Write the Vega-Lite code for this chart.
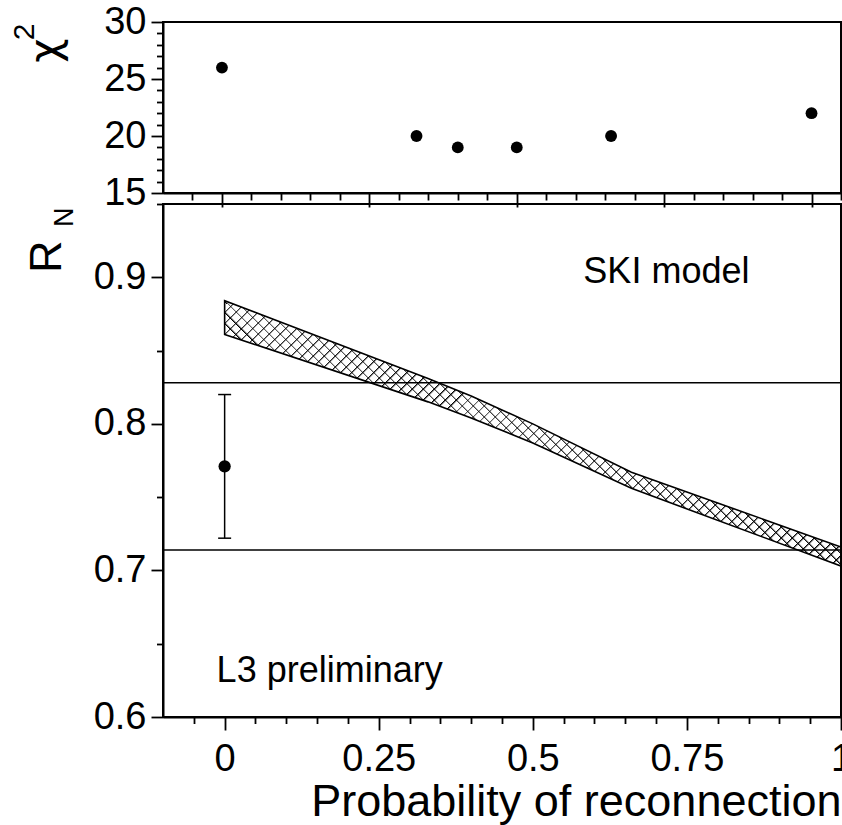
{
  "$schema": "https://vega.github.io/schema/vega-lite/v6.json",
  "autosize": {"type": "none"},
  "padding": {"left": 163, "top": 22, "right": 1, "bottom": 108},
  "params": [{"name": "width", "value": 678}, {"name": "height", "value": 695}],
  "background": "white",
  "spacing": 11,
  "bounds": "flush",
  "config": {
    "font": "Liberation Sans",
    "view": {"stroke": "black", "strokeWidth": 2},
    "axis": {"grid": false, "domainColor": "black", "domainWidth": 2, "tickColor": "black", "tickWidth": 1.8, "labelColor": "black", "titleColor": "black", "labelFont": "Liberation Sans", "titleFont": "Liberation Sans", "titleFontWeight": "normal", "labelOverlap": false, "labelSeparation": -1000, "labelBound": false, "labelFlush": false}
  },
  "datasets": {
    "chi": [
      {"p": 0, "chi2": 26},
      {"p": 0.33, "chi2": 20},
      {"p": 0.4, "chi2": 19},
      {"p": 0.5, "chi2": 19},
      {"p": 0.66, "chi2": 20},
      {"p": 1, "chi2": 22}
    ],
    "band": [
      {"p": 0, "lo": 0.861, "hi": 0.884},
      {"p": 0.33, "lo": 0.815, "hi": 0.831},
      {"p": 0.4, "lo": 0.804, "hi": 0.819},
      {"p": 0.5, "lo": 0.787, "hi": 0.8},
      {"p": 0.66, "lo": 0.756, "hi": 0.767},
      {"p": 1, "lo": 0.703, "hi": 0.716}
    ],
    "lines": [{"lo": 0.828}, {"lo": 0.714}],
    "meas": [{"p": 0, "lo": 0.771, "elo": 0.722, "ehi": 0.82}],
    "caps": [{"p": 0, "lo": 0.722}, {"p": 0, "lo": 0.82}],
    "notes": [
      {"p": 0.582, "lo": 0.896, "txt": "SKI model"},
      {"p": -0.013, "lo": 0.624, "txt": "L3 preliminary"}
    ]
  },
  "vconcat": [
    {
      "width": 678,
      "height": 171,
      "layer": [
        {
          "data": {"name": "chi"},
          "mark": {"type": "circle", "size": 140, "color": "black", "opacity": 1},
          "encoding": {
            "x": {"field": "p", "type": "quantitative",
              "scale": {"domain": [-0.1, 1.05], "nice": false, "zero": false},
              "axis": {"title": null, "labels": false,
                "values": [-0.05, 0, 0.05, 0.1, 0.15, 0.2, 0.25, 0.3, 0.35, 0.4, 0.45, 0.5, 0.55, 0.6, 0.65, 0.7, 0.75, 0.8, 0.85, 0.9, 0.95, 1, 1.05],
                "tickSize": {"condition": {"test": "abs(datum.value*4 - round(datum.value*4)) < 0.001", "value": 14}, "value": 7}}},
            "y": {"field": "chi2", "type": "quantitative",
              "scale": {"domain": [15, 30], "nice": false, "zero": false},
              "axis": {"values": [15, 16, 17, 18, 19, 20, 21, 22, 23, 24, 25, 26, 27, 28, 29, 30],
                "tickSize": {"condition": {"test": "datum.value % 5 == 0", "value": 12}, "value": 6.5},
                "labelExpr": "datum.value % 5 == 0 ? format(datum.value, 'd') : ''",
                "labelOverlap": false, "labelSeparation": -1000,
                "labelFontSize": 38, "labelPadding": 5,
                "title": "χ", "titleFont": "DejaVu Sans", "titleFontSize": 42, "titleAngle": 270, "titleAlign": "right", "titleBaseline": "alphabetic", "titleX": -105, "titleY": 16}}
          }
        },
        {
          "data": {"name": "chi"},
          "mark": {"type": "point", "opacity": 0},
          "encoding": {
            "y": {"field": "chi2", "type": "quantitative",
              "axis": {"orient": "right", "labels": false, "ticks": false, "domain": false,
                "title": "2", "titleFontSize": 30, "titleAngle": 270, "titleAlign": "right", "titleBaseline": "alphabetic", "titleX": -808, "titleY": 1}}
          }
        }
      ],
      "resolve": {"axis": {"y": "independent"}}
    },
    {
      "width": 678,
      "height": 513,
      "layer": [
        {
          "layer": [
            {
              "data": {"name": "band"},
              "mark": {"type": "area", "fillOpacity": 1, "strokeWidth": 0,
                "fill": {"gradient": "linear", "x1": 0, "y1": 1, "x2": 1.2068, "y2": 0.4803, "stops": [
        {"offset":0,"color":"#000"},{"offset":0.0028,"color":"transparent"},{"offset":0.0125,"color":"transparent"},
        {"offset":0.0125,"color":"#000"},{"offset":0.0153,"color":"transparent"},{"offset":0.025,"color":"transparent"},
        {"offset":0.025,"color":"#000"},{"offset":0.0278,"color":"transparent"},{"offset":0.0375,"color":"transparent"},
        {"offset":0.0375,"color":"#000"},{"offset":0.0403,"color":"transparent"},{"offset":0.05,"color":"transparent"},
        {"offset":0.05,"color":"#000"},{"offset":0.0528,"color":"transparent"},{"offset":0.0625,"color":"transparent"},
        {"offset":0.0625,"color":"#000"},{"offset":0.0653,"color":"transparent"},{"offset":0.075,"color":"transparent"},
        {"offset":0.075,"color":"#000"},{"offset":0.0778,"color":"transparent"},{"offset":0.0875,"color":"transparent"},
        {"offset":0.0875,"color":"#000"},{"offset":0.0903,"color":"transparent"},{"offset":0.1,"color":"transparent"},
        {"offset":0.1,"color":"#000"},{"offset":0.1028,"color":"transparent"},{"offset":0.1125,"color":"transparent"},
        {"offset":0.1125,"color":"#000"},{"offset":0.1153,"color":"transparent"},{"offset":0.125,"color":"transparent"},
        {"offset":0.125,"color":"#000"},{"offset":0.1278,"color":"transparent"},{"offset":0.1375,"color":"transparent"},
        {"offset":0.1375,"color":"#000"},{"offset":0.1403,"color":"transparent"},{"offset":0.15,"color":"transparent"},
        {"offset":0.15,"color":"#000"},{"offset":0.1528,"color":"transparent"},{"offset":0.1625,"color":"transparent"},
        {"offset":0.1625,"color":"#000"},{"offset":0.1653,"color":"transparent"},{"offset":0.175,"color":"transparent"},
        {"offset":0.175,"color":"#000"},{"offset":0.1778,"color":"transparent"},{"offset":0.1875,"color":"transparent"},
        {"offset":0.1875,"color":"#000"},{"offset":0.1903,"color":"transparent"},{"offset":0.2,"color":"transparent"},
        {"offset":0.2,"color":"#000"},{"offset":0.2028,"color":"transparent"},{"offset":0.2125,"color":"transparent"},
        {"offset":0.2125,"color":"#000"},{"offset":0.2153,"color":"transparent"},{"offset":0.225,"color":"transparent"},
        {"offset":0.225,"color":"#000"},{"offset":0.2278,"color":"transparent"},{"offset":0.2375,"color":"transparent"},
        {"offset":0.2375,"color":"#000"},{"offset":0.2403,"color":"transparent"},{"offset":0.25,"color":"transparent"},
        {"offset":0.25,"color":"#000"},{"offset":0.2528,"color":"transparent"},{"offset":0.2625,"color":"transparent"},
        {"offset":0.2625,"color":"#000"},{"offset":0.2653,"color":"transparent"},{"offset":0.275,"color":"transparent"},
        {"offset":0.275,"color":"#000"},{"offset":0.2778,"color":"transparent"},{"offset":0.2875,"color":"transparent"},
        {"offset":0.2875,"color":"#000"},{"offset":0.2903,"color":"transparent"},{"offset":0.3,"color":"transparent"},
        {"offset":0.3,"color":"#000"},{"offset":0.3028,"color":"transparent"},{"offset":0.3125,"color":"transparent"},
        {"offset":0.3125,"color":"#000"},{"offset":0.3153,"color":"transparent"},{"offset":0.325,"color":"transparent"},
        {"offset":0.325,"color":"#000"},{"offset":0.3278,"color":"transparent"},{"offset":0.3375,"color":"transparent"},
        {"offset":0.3375,"color":"#000"},{"offset":0.3403,"color":"transparent"},{"offset":0.35,"color":"transparent"},
        {"offset":0.35,"color":"#000"},{"offset":0.3528,"color":"transparent"},{"offset":0.3625,"color":"transparent"},
        {"offset":0.3625,"color":"#000"},{"offset":0.3653,"color":"transparent"},{"offset":0.375,"color":"transparent"},
        {"offset":0.375,"color":"#000"},{"offset":0.3778,"color":"transparent"},{"offset":0.3875,"color":"transparent"},
        {"offset":0.3875,"color":"#000"},{"offset":0.3903,"color":"transparent"},{"offset":0.4,"color":"transparent"},
        {"offset":0.4,"color":"#000"},{"offset":0.4028,"color":"transparent"},{"offset":0.4125,"color":"transparent"},
        {"offset":0.4125,"color":"#000"},{"offset":0.4153,"color":"transparent"},{"offset":0.425,"color":"transparent"},
        {"offset":0.425,"color":"#000"},{"offset":0.4278,"color":"transparent"},{"offset":0.4375,"color":"transparent"},
        {"offset":0.4375,"color":"#000"},{"offset":0.4403,"color":"transparent"},{"offset":0.45,"color":"transparent"},
        {"offset":0.45,"color":"#000"},{"offset":0.4528,"color":"transparent"},{"offset":0.4625,"color":"transparent"},
        {"offset":0.4625,"color":"#000"},{"offset":0.4653,"color":"transparent"},{"offset":0.475,"color":"transparent"},
        {"offset":0.475,"color":"#000"},{"offset":0.4778,"color":"transparent"},{"offset":0.4875,"color":"transparent"},
        {"offset":0.4875,"color":"#000"},{"offset":0.4903,"color":"transparent"},{"offset":0.5,"color":"transparent"},
        {"offset":0.5,"color":"#000"},{"offset":0.5028,"color":"transparent"},{"offset":0.5125,"color":"transparent"},
        {"offset":0.5125,"color":"#000"},{"offset":0.5153,"color":"transparent"},{"offset":0.525,"color":"transparent"},
        {"offset":0.525,"color":"#000"},{"offset":0.5278,"color":"transparent"},{"offset":0.5375,"color":"transparent"},
        {"offset":0.5375,"color":"#000"},{"offset":0.5403,"color":"transparent"},{"offset":0.55,"color":"transparent"},
        {"offset":0.55,"color":"#000"},{"offset":0.5528,"color":"transparent"},{"offset":0.5625,"color":"transparent"},
        {"offset":0.5625,"color":"#000"},{"offset":0.5653,"color":"transparent"},{"offset":0.575,"color":"transparent"},
        {"offset":0.575,"color":"#000"},{"offset":0.5778,"color":"transparent"},{"offset":0.5875,"color":"transparent"},
        {"offset":0.5875,"color":"#000"},{"offset":0.5903,"color":"transparent"},{"offset":0.6,"color":"transparent"},
        {"offset":0.6,"color":"#000"},{"offset":0.6028,"color":"transparent"},{"offset":0.6125,"color":"transparent"},
        {"offset":0.6125,"color":"#000"},{"offset":0.6153,"color":"transparent"},{"offset":0.625,"color":"transparent"},
        {"offset":0.625,"color":"#000"},{"offset":0.6278,"color":"transparent"},{"offset":0.6375,"color":"transparent"},
        {"offset":0.6375,"color":"#000"},{"offset":0.6403,"color":"transparent"},{"offset":0.65,"color":"transparent"},
        {"offset":0.65,"color":"#000"},{"offset":0.6528,"color":"transparent"},{"offset":0.6625,"color":"transparent"},
        {"offset":0.6625,"color":"#000"},{"offset":0.6653,"color":"transparent"},{"offset":0.675,"color":"transparent"},
        {"offset":0.675,"color":"#000"},{"offset":0.6778,"color":"transparent"},{"offset":0.6875,"color":"transparent"},
        {"offset":0.6875,"color":"#000"},{"offset":0.6903,"color":"transparent"},{"offset":0.7,"color":"transparent"},
        {"offset":0.7,"color":"#000"},{"offset":0.7028,"color":"transparent"},{"offset":0.7125,"color":"transparent"},
        {"offset":0.7125,"color":"#000"},{"offset":0.7153,"color":"transparent"},{"offset":0.725,"color":"transparent"},
        {"offset":0.725,"color":"#000"},{"offset":0.7278,"color":"transparent"},{"offset":0.7375,"color":"transparent"},
        {"offset":0.7375,"color":"#000"},{"offset":0.7403,"color":"transparent"},{"offset":0.75,"color":"transparent"},
        {"offset":0.75,"color":"#000"},{"offset":0.7528,"color":"transparent"},{"offset":0.7625,"color":"transparent"},
        {"offset":0.7625,"color":"#000"},{"offset":0.7653,"color":"transparent"},{"offset":0.775,"color":"transparent"},
        {"offset":0.775,"color":"#000"},{"offset":0.7778,"color":"transparent"},{"offset":0.7875,"color":"transparent"},
        {"offset":0.7875,"color":"#000"},{"offset":0.7903,"color":"transparent"},{"offset":0.8,"color":"transparent"},
        {"offset":0.8,"color":"#000"},{"offset":0.8028,"color":"transparent"},{"offset":0.8125,"color":"transparent"},
        {"offset":0.8125,"color":"#000"},{"offset":0.8153,"color":"transparent"},{"offset":0.825,"color":"transparent"},
        {"offset":0.825,"color":"#000"},{"offset":0.8278,"color":"transparent"},{"offset":0.8375,"color":"transparent"},
        {"offset":0.8375,"color":"#000"},{"offset":0.8403,"color":"transparent"},{"offset":0.85,"color":"transparent"},
        {"offset":0.85,"color":"#000"},{"offset":0.8528,"color":"transparent"},{"offset":0.8625,"color":"transparent"},
        {"offset":0.8625,"color":"#000"},{"offset":0.8653,"color":"transparent"},{"offset":0.875,"color":"transparent"},
        {"offset":0.875,"color":"#000"},{"offset":0.8778,"color":"transparent"},{"offset":0.8875,"color":"transparent"},
        {"offset":0.8875,"color":"#000"},{"offset":0.8903,"color":"transparent"},{"offset":0.9,"color":"transparent"},
        {"offset":0.9,"color":"#000"},{"offset":0.9028,"color":"transparent"},{"offset":0.9125,"color":"transparent"},
        {"offset":0.9125,"color":"#000"},{"offset":0.9153,"color":"transparent"},{"offset":0.925,"color":"transparent"},
        {"offset":0.925,"color":"#000"},{"offset":0.9278,"color":"transparent"},{"offset":0.9375,"color":"transparent"},
        {"offset":0.9375,"color":"#000"},{"offset":0.9403,"color":"transparent"},{"offset":0.95,"color":"transparent"},
        {"offset":0.95,"color":"#000"},{"offset":0.9528,"color":"transparent"},{"offset":0.9625,"color":"transparent"},
        {"offset":0.9625,"color":"#000"},{"offset":0.9653,"color":"transparent"},{"offset":0.975,"color":"transparent"},
        {"offset":0.975,"color":"#000"},{"offset":0.9778,"color":"transparent"},{"offset":0.9875,"color":"transparent"},
        {"offset":0.9875,"color":"#000"},{"offset":0.9903,"color":"transparent"},{"offset":1,"color":"transparent"}
                ]}},
              "encoding": {
                "x": {"field": "p", "type": "quantitative",
                  "scale": {"domain": [-0.1, 1.0], "nice": false, "zero": false},
                  "axis": {"values": [0, 0.25, 0.5, 0.75, 1],
                    "tickSize": 13,
                    "format": "~g",
                    "labelOverlap": false,
                    "labelFontSize": 38, "labelPadding": 10,
                    "title": "Probability of reconnection", "titleFontSize": 45, "titleAnchor": "end", "titleAlign": "right", "titleBaseline": "alphabetic", "titleX": 678, "titleY": 98}},
                "y": {"field": "lo", "type": "quantitative",
                  "scale": {"domain": [0.6, 0.95], "nice": false, "zero": false},
                  "axis": {"values": [0.6, 0.625, 0.65, 0.675, 0.7, 0.725, 0.75, 0.775, 0.8, 0.825, 0.85, 0.875, 0.9, 0.925, 0.95],
                    "tickSize": {"condition": {"test": "abs(datum.value*10 - round(datum.value*10)) < 0.001", "value": 12}, "value": 6.5},
                    "labelExpr": "abs(datum.value*10 - round(datum.value*10)) < 0.001 ? format(datum.value, '.1f') : ''",
                    "labelOverlap": false, "labelSeparation": -1000,
                    "labelFontSize": 38, "labelPadding": 5,
                    "title": "R", "titleFontSize": 45, "titleAngle": 270, "titleAlign": "right", "titleBaseline": "alphabetic", "titleX": -103, "titleY": 36}},
                "y2": {"field": "hi"}
              }
            },
            {
              "data": {"name": "band"},
              "mark": {"type": "area", "fillOpacity": 1, "stroke": "black", "strokeWidth": 1.6,
                "fill": {"gradient": "linear", "x1": 0, "y1": 0, "x2": 1.2068, "y2": 0.5197, "stops": [
        {"offset":0,"color":"#000"},{"offset":0.0028,"color":"transparent"},{"offset":0.0125,"color":"transparent"},
        {"offset":0.0125,"color":"#000"},{"offset":0.0153,"color":"transparent"},{"offset":0.025,"color":"transparent"},
        {"offset":0.025,"color":"#000"},{"offset":0.0278,"color":"transparent"},{"offset":0.0375,"color":"transparent"},
        {"offset":0.0375,"color":"#000"},{"offset":0.0403,"color":"transparent"},{"offset":0.05,"color":"transparent"},
        {"offset":0.05,"color":"#000"},{"offset":0.0528,"color":"transparent"},{"offset":0.0625,"color":"transparent"},
        {"offset":0.0625,"color":"#000"},{"offset":0.0653,"color":"transparent"},{"offset":0.075,"color":"transparent"},
        {"offset":0.075,"color":"#000"},{"offset":0.0778,"color":"transparent"},{"offset":0.0875,"color":"transparent"},
        {"offset":0.0875,"color":"#000"},{"offset":0.0903,"color":"transparent"},{"offset":0.1,"color":"transparent"},
        {"offset":0.1,"color":"#000"},{"offset":0.1028,"color":"transparent"},{"offset":0.1125,"color":"transparent"},
        {"offset":0.1125,"color":"#000"},{"offset":0.1153,"color":"transparent"},{"offset":0.125,"color":"transparent"},
        {"offset":0.125,"color":"#000"},{"offset":0.1278,"color":"transparent"},{"offset":0.1375,"color":"transparent"},
        {"offset":0.1375,"color":"#000"},{"offset":0.1403,"color":"transparent"},{"offset":0.15,"color":"transparent"},
        {"offset":0.15,"color":"#000"},{"offset":0.1528,"color":"transparent"},{"offset":0.1625,"color":"transparent"},
        {"offset":0.1625,"color":"#000"},{"offset":0.1653,"color":"transparent"},{"offset":0.175,"color":"transparent"},
        {"offset":0.175,"color":"#000"},{"offset":0.1778,"color":"transparent"},{"offset":0.1875,"color":"transparent"},
        {"offset":0.1875,"color":"#000"},{"offset":0.1903,"color":"transparent"},{"offset":0.2,"color":"transparent"},
        {"offset":0.2,"color":"#000"},{"offset":0.2028,"color":"transparent"},{"offset":0.2125,"color":"transparent"},
        {"offset":0.2125,"color":"#000"},{"offset":0.2153,"color":"transparent"},{"offset":0.225,"color":"transparent"},
        {"offset":0.225,"color":"#000"},{"offset":0.2278,"color":"transparent"},{"offset":0.2375,"color":"transparent"},
        {"offset":0.2375,"color":"#000"},{"offset":0.2403,"color":"transparent"},{"offset":0.25,"color":"transparent"},
        {"offset":0.25,"color":"#000"},{"offset":0.2528,"color":"transparent"},{"offset":0.2625,"color":"transparent"},
        {"offset":0.2625,"color":"#000"},{"offset":0.2653,"color":"transparent"},{"offset":0.275,"color":"transparent"},
        {"offset":0.275,"color":"#000"},{"offset":0.2778,"color":"transparent"},{"offset":0.2875,"color":"transparent"},
        {"offset":0.2875,"color":"#000"},{"offset":0.2903,"color":"transparent"},{"offset":0.3,"color":"transparent"},
        {"offset":0.3,"color":"#000"},{"offset":0.3028,"color":"transparent"},{"offset":0.3125,"color":"transparent"},
        {"offset":0.3125,"color":"#000"},{"offset":0.3153,"color":"transparent"},{"offset":0.325,"color":"transparent"},
        {"offset":0.325,"color":"#000"},{"offset":0.3278,"color":"transparent"},{"offset":0.3375,"color":"transparent"},
        {"offset":0.3375,"color":"#000"},{"offset":0.3403,"color":"transparent"},{"offset":0.35,"color":"transparent"},
        {"offset":0.35,"color":"#000"},{"offset":0.3528,"color":"transparent"},{"offset":0.3625,"color":"transparent"},
        {"offset":0.3625,"color":"#000"},{"offset":0.3653,"color":"transparent"},{"offset":0.375,"color":"transparent"},
        {"offset":0.375,"color":"#000"},{"offset":0.3778,"color":"transparent"},{"offset":0.3875,"color":"transparent"},
        {"offset":0.3875,"color":"#000"},{"offset":0.3903,"color":"transparent"},{"offset":0.4,"color":"transparent"},
        {"offset":0.4,"color":"#000"},{"offset":0.4028,"color":"transparent"},{"offset":0.4125,"color":"transparent"},
        {"offset":0.4125,"color":"#000"},{"offset":0.4153,"color":"transparent"},{"offset":0.425,"color":"transparent"},
        {"offset":0.425,"color":"#000"},{"offset":0.4278,"color":"transparent"},{"offset":0.4375,"color":"transparent"},
        {"offset":0.4375,"color":"#000"},{"offset":0.4403,"color":"transparent"},{"offset":0.45,"color":"transparent"},
        {"offset":0.45,"color":"#000"},{"offset":0.4528,"color":"transparent"},{"offset":0.4625,"color":"transparent"},
        {"offset":0.4625,"color":"#000"},{"offset":0.4653,"color":"transparent"},{"offset":0.475,"color":"transparent"},
        {"offset":0.475,"color":"#000"},{"offset":0.4778,"color":"transparent"},{"offset":0.4875,"color":"transparent"},
        {"offset":0.4875,"color":"#000"},{"offset":0.4903,"color":"transparent"},{"offset":0.5,"color":"transparent"},
        {"offset":0.5,"color":"#000"},{"offset":0.5028,"color":"transparent"},{"offset":0.5125,"color":"transparent"},
        {"offset":0.5125,"color":"#000"},{"offset":0.5153,"color":"transparent"},{"offset":0.525,"color":"transparent"},
        {"offset":0.525,"color":"#000"},{"offset":0.5278,"color":"transparent"},{"offset":0.5375,"color":"transparent"},
        {"offset":0.5375,"color":"#000"},{"offset":0.5403,"color":"transparent"},{"offset":0.55,"color":"transparent"},
        {"offset":0.55,"color":"#000"},{"offset":0.5528,"color":"transparent"},{"offset":0.5625,"color":"transparent"},
        {"offset":0.5625,"color":"#000"},{"offset":0.5653,"color":"transparent"},{"offset":0.575,"color":"transparent"},
        {"offset":0.575,"color":"#000"},{"offset":0.5778,"color":"transparent"},{"offset":0.5875,"color":"transparent"},
        {"offset":0.5875,"color":"#000"},{"offset":0.5903,"color":"transparent"},{"offset":0.6,"color":"transparent"},
        {"offset":0.6,"color":"#000"},{"offset":0.6028,"color":"transparent"},{"offset":0.6125,"color":"transparent"},
        {"offset":0.6125,"color":"#000"},{"offset":0.6153,"color":"transparent"},{"offset":0.625,"color":"transparent"},
        {"offset":0.625,"color":"#000"},{"offset":0.6278,"color":"transparent"},{"offset":0.6375,"color":"transparent"},
        {"offset":0.6375,"color":"#000"},{"offset":0.6403,"color":"transparent"},{"offset":0.65,"color":"transparent"},
        {"offset":0.65,"color":"#000"},{"offset":0.6528,"color":"transparent"},{"offset":0.6625,"color":"transparent"},
        {"offset":0.6625,"color":"#000"},{"offset":0.6653,"color":"transparent"},{"offset":0.675,"color":"transparent"},
        {"offset":0.675,"color":"#000"},{"offset":0.6778,"color":"transparent"},{"offset":0.6875,"color":"transparent"},
        {"offset":0.6875,"color":"#000"},{"offset":0.6903,"color":"transparent"},{"offset":0.7,"color":"transparent"},
        {"offset":0.7,"color":"#000"},{"offset":0.7028,"color":"transparent"},{"offset":0.7125,"color":"transparent"},
        {"offset":0.7125,"color":"#000"},{"offset":0.7153,"color":"transparent"},{"offset":0.725,"color":"transparent"},
        {"offset":0.725,"color":"#000"},{"offset":0.7278,"color":"transparent"},{"offset":0.7375,"color":"transparent"},
        {"offset":0.7375,"color":"#000"},{"offset":0.7403,"color":"transparent"},{"offset":0.75,"color":"transparent"},
        {"offset":0.75,"color":"#000"},{"offset":0.7528,"color":"transparent"},{"offset":0.7625,"color":"transparent"},
        {"offset":0.7625,"color":"#000"},{"offset":0.7653,"color":"transparent"},{"offset":0.775,"color":"transparent"},
        {"offset":0.775,"color":"#000"},{"offset":0.7778,"color":"transparent"},{"offset":0.7875,"color":"transparent"},
        {"offset":0.7875,"color":"#000"},{"offset":0.7903,"color":"transparent"},{"offset":0.8,"color":"transparent"},
        {"offset":0.8,"color":"#000"},{"offset":0.8028,"color":"transparent"},{"offset":0.8125,"color":"transparent"},
        {"offset":0.8125,"color":"#000"},{"offset":0.8153,"color":"transparent"},{"offset":0.825,"color":"transparent"},
        {"offset":0.825,"color":"#000"},{"offset":0.8278,"color":"transparent"},{"offset":0.8375,"color":"transparent"},
        {"offset":0.8375,"color":"#000"},{"offset":0.8403,"color":"transparent"},{"offset":0.85,"color":"transparent"},
        {"offset":0.85,"color":"#000"},{"offset":0.8528,"color":"transparent"},{"offset":0.8625,"color":"transparent"},
        {"offset":0.8625,"color":"#000"},{"offset":0.8653,"color":"transparent"},{"offset":0.875,"color":"transparent"},
        {"offset":0.875,"color":"#000"},{"offset":0.8778,"color":"transparent"},{"offset":0.8875,"color":"transparent"},
        {"offset":0.8875,"color":"#000"},{"offset":0.8903,"color":"transparent"},{"offset":0.9,"color":"transparent"},
        {"offset":0.9,"color":"#000"},{"offset":0.9028,"color":"transparent"},{"offset":0.9125,"color":"transparent"},
        {"offset":0.9125,"color":"#000"},{"offset":0.9153,"color":"transparent"},{"offset":0.925,"color":"transparent"},
        {"offset":0.925,"color":"#000"},{"offset":0.9278,"color":"transparent"},{"offset":0.9375,"color":"transparent"},
        {"offset":0.9375,"color":"#000"},{"offset":0.9403,"color":"transparent"},{"offset":0.95,"color":"transparent"},
        {"offset":0.95,"color":"#000"},{"offset":0.9528,"color":"transparent"},{"offset":0.9625,"color":"transparent"},
        {"offset":0.9625,"color":"#000"},{"offset":0.9653,"color":"transparent"},{"offset":0.975,"color":"transparent"},
        {"offset":0.975,"color":"#000"},{"offset":0.9778,"color":"transparent"},{"offset":0.9875,"color":"transparent"},
        {"offset":0.9875,"color":"#000"},{"offset":0.9903,"color":"transparent"},{"offset":1,"color":"transparent"}
                ]}},
              "encoding": {
                "x": {"field": "p", "type": "quantitative"},
                "y": {"field": "lo", "type": "quantitative"},
                "y2": {"field": "hi"}
              }
            },
            {
              "data": {"name": "lines"},
              "mark": {"type": "rule", "color": "black", "strokeWidth": 1.5},
              "encoding": {"y": {"field": "lo", "type": "quantitative"}}
            },
            {
              "data": {"name": "meas"},
              "mark": {"type": "rule", "color": "black", "strokeWidth": 1.5},
              "encoding": {
                "x": {"field": "p", "type": "quantitative"},
                "y": {"field": "elo", "type": "quantitative"},
                "y2": {"field": "ehi"}
              }
            },
            {
              "data": {"name": "caps"},
              "mark": {"type": "tick", "orient": "horizontal", "size": 13, "thickness": 1.5, "color": "black", "opacity": 1},
              "encoding": {
                "x": {"field": "p", "type": "quantitative"},
                "y": {"field": "lo", "type": "quantitative"}
              }
            },
            {
              "data": {"name": "meas"},
              "mark": {"type": "circle", "size": 150, "color": "black", "opacity": 1},
              "encoding": {
                "x": {"field": "p", "type": "quantitative"},
                "y": {"field": "lo", "type": "quantitative"}
              }
            },
            {
              "data": {"name": "notes"},
              "mark": {"type": "text", "align": "left", "baseline": "alphabetic", "fontSize": 36, "color": "black", "font": "Liberation Sans"},
              "encoding": {
                "x": {"field": "p", "type": "quantitative"},
                "y": {"field": "lo", "type": "quantitative"},
                "text": {"field": "txt"}
              }
            }
          ]
        },
        {
          "data": {"name": "band"},
          "mark": {"type": "point", "opacity": 0},
          "encoding": {
            "x": {"field": "p", "type": "quantitative",
              "axis": {"orient": "bottom", "labels": false, "domain": false, "title": null, "tickSize": 6.5,
                "values": [-0.05, 0.05, 0.1, 0.15, 0.2, 0.3, 0.35, 0.4, 0.45, 0.55, 0.6, 0.65, 0.7, 0.8, 0.85, 0.9, 0.95]}},
            "y": {"field": "lo", "type": "quantitative",
              "axis": {"orient": "right", "labels": false, "ticks": false, "domain": false,
                "title": "N", "titleFontSize": 27, "titleAngle": 270, "titleAlign": "right", "titleBaseline": "alphabetic", "titleX": -769, "titleY": 3}}
          }
        }
      ],
      "resolve": {"axis": {"y": "independent", "x": "independent"}}
    }
  ]
}
